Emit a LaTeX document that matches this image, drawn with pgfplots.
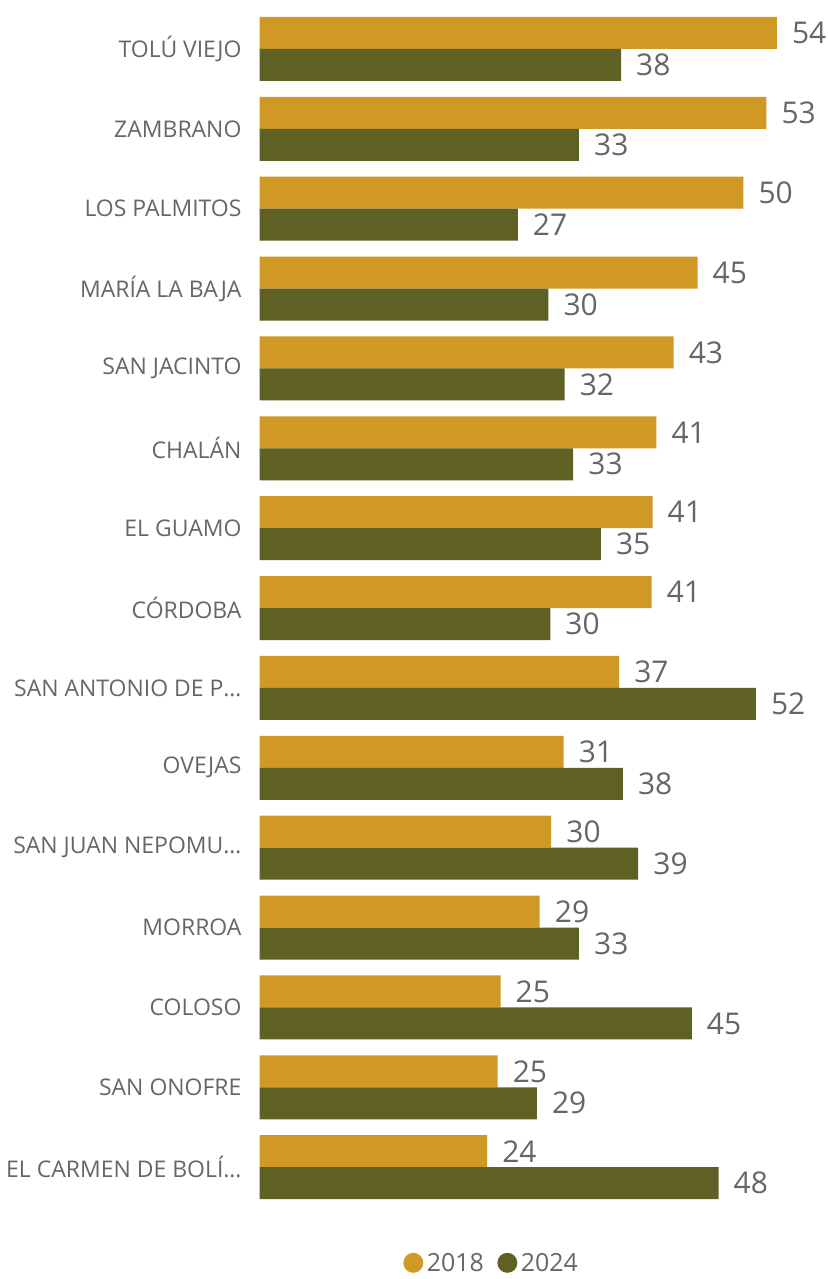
\documentclass[border=0pt]{standalone}
\usepackage{pgfplots}
\pgfplotsset{compat=1.18}
\usepackage{pgfplotstable}
\usepackage{fontspec}
\setmainfont{Open Sans}
\definecolor{gold}{HTML}{D09824}
\definecolor{olive}{HTML}{5E6024}
\definecolor{txt}{HTML}{666666}
\pgfplotstableread{
y a la b lb
0 54.1 54 37.8 38
1 53.0 53 33.4 33
2 50.6 50 27.0 27
3 45.8 45 30.2 30
4 43.3 43 31.9 32
5 41.5 41 32.8 33
6 41.1 41 35.7 35
7 41.0 41 30.4 30
8 37.6 37 51.9 52
9 31.8 31 38.0 38
10 30.5 30 39.6 39
11 29.3 29 33.4 33
12 25.2 25 45.2 45
13 24.9 25 29.0 29
14 23.8 24 48.0 48
}\data
\begin{document}
\begin{tikzpicture}
\useasboundingbox (-260pt,-72pt) rectangle (569pt,1209pt);
\begin{axis}[
  at={(0pt,0pt)}, anchor=south west,
  scale only axis, width=565pt, height=1200pt,
  xmin=0, xmax=59, ymin=-0.5, ymax=14.5, y dir=reverse,
  clip=false,
  axis line style={draw=none},
  xtick=\empty,
  ytick={0,...,14},
  yticklabels={TOLÚ VIEJO,ZAMBRANO,LOS PALMITOS,MARÍA LA BAJA,SAN JACINTO,CHALÁN,EL GUAMO,CÓRDOBA,SAN ANTONIO DE P…,OVEJAS,SAN JUAN NEPOMU…,MORROA,COLOSO,SAN ONOFRE,EL CARMEN DE BOLÍ…},
  major tick length=0pt,
  yticklabel style={font=\fontsize{23}{23}\selectfont, text=txt, inner sep=0pt, xshift=-18pt, anchor=east},
  nodes near coords,
  point meta=explicit symbolic,
  legend style={at={(0.41,-0.0465)}, anchor=center, draw=none, fill=none, legend columns=-1,
    font=\fontsize{25}{25}\selectfont, text=txt, inner sep=0pt,
    nodes={inner sep=0.5pt},
    /tikz/every even column/.append style={column sep=13pt},
    /tikz/every odd column/.append style={column sep=3pt}},
]
\addplot[xbar, bar width=0.4, bar shift=-0.2, fill=gold, draw=none,
  every node near coord/.append style={font=\fontsize{30}{30}\selectfont, text=txt, anchor=west, inner sep=0pt, xshift=15pt, yshift=16pt},
  legend image code/.code={\fill[gold] (0pt,0pt) circle (10pt);}]
  table[x=a, y=y, meta=la] {\data};
\addplot[xbar, bar width=0.4, bar shift=0.2, fill=olive, draw=none,
  every node near coord/.append style={font=\fontsize{30}{30}\selectfont, text=txt, anchor=west, inner sep=0pt, xshift=15pt, yshift=-16pt},
  legend image code/.code={\fill[olive] (0pt,0pt) circle (10pt);}]
  table[x=b, y=y, meta=lb] {\data};
\legend{2018,2024}
\end{axis}
\end{tikzpicture}
\end{document}
